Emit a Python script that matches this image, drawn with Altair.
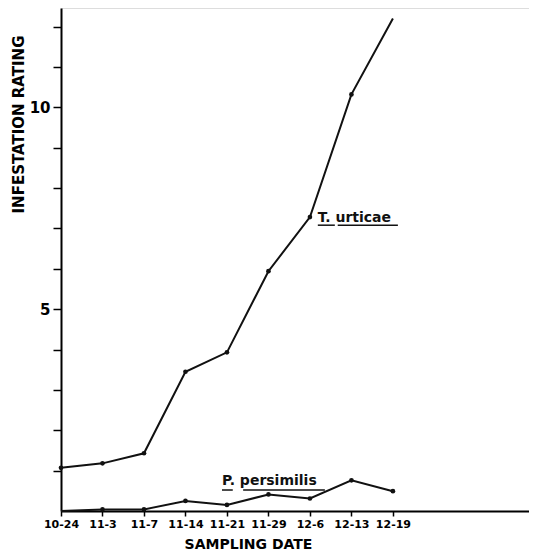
import altair as alt
import pandas as pd

dates = ["10-24", "11-3", "11-7", "11-14", "11-21", "11-29", "12-6", "12-13", "12-19"]
t_urticae = [1.07, 1.18, 1.43, 3.45, 3.93, 5.94, 7.28, 10.32, 12.2]
p_persimilis = [0.0, 0.04, 0.04, 0.25, 0.15, 0.41, 0.31, 0.76, 0.49]
series_names = ["T. urticae", "P. persimilis"]

rows = []
for i, d in enumerate(dates):
    rows.append({"idx": i, "date": d, "series": series_names[0], "value": t_urticae[i],
                 "marker": i < len(dates) - 1})
    rows.append({"idx": i, "date": d, "series": series_names[1], "value": p_persimilis[i],
                 "marker": i > 0})
df = pd.DataFrame(rows)

# annotation labels (data coordinates)
labels = pd.DataFrame({
    "text": series_names,
    "x": [6.19, 3.88],
    "y": [7.17, 0.64],
})
underlines = pd.DataFrame({
    "x": [6.19, 6.67, 3.88, 4.39],
    "x2": [6.60, 8.12, 4.14, 6.36],
    "y": [7.08, 7.08, 0.52, 0.52],
})

FONT = "DejaVu Sans"
label_expr = "[" + ",".join(f"'{d}'" for d in dates) + "][datum.value]"

x_enc = alt.X(
    "idx:Q",
    scale=alt.Scale(domain=[0, 11.28], nice=False, zero=False),
    axis=alt.Axis(
        values=list(range(len(dates))),
        labelExpr=label_expr,
        labelFlush=False,
        title="SAMPLING DATE",
        titleX=187, titleY=37, titleAlign="center", titleBaseline="alphabetic",
        titleFontSize=14, titleFont=FONT, titleFontWeight="bold", titleColor="black",
        labelFont=FONT, labelFontSize=11, labelFontWeight="bold", labelColor="black",
        labelPadding=2, tickSize=5, tickColor="black", tickWidth=1.5,
        domainColor="black", domainWidth=2, grid=False, labelOverlap=False,
    ),
)
y_enc = alt.Y(
    "value:Q",
    scale=alt.Scale(domain=[0, 12.46], nice=False),
    axis=alt.Axis(
        values=list(range(1, 13)),
        labelExpr="datum.value == 5 || datum.value == 10 ? datum.label : ''",
        title="INFESTATION RATING",
        titleX=-43, titleY=116, titleAngle=270, titleAlign="center", titleBaseline="middle",
        titleFontSize=15, titleFont=FONT, titleFontWeight="bold", titleColor="black",
        labelFont=FONT, labelFontSize=15, labelFontWeight="bold", labelColor="black",
        labelPadding=3, tickSize=8, tickColor="black", tickWidth=1.5,
        domainColor="black", domainWidth=2, grid=False,
    ),
)

base = alt.Chart(df)
lines = base.mark_line(color="#111111", strokeWidth=2).encode(
    x=x_enc, y=y_enc, detail="series:N", order="idx:Q"
)
points = base.transform_filter("datum.marker").mark_circle(color="#111111", size=22, opacity=1).encode(
    x="idx:Q", y="value:Q"
)
texts = alt.Chart(labels).mark_text(
    font=FONT, fontSize=14, fontWeight="bold", align="left", baseline="alphabetic", color="#111111"
).encode(x="x:Q", y="y:Q", text="text:N")
rules = alt.Chart(underlines).mark_rule(color="#111111", strokeWidth=1.5).encode(
    x="x:Q", x2="x2:Q", y="y:Q"
)

chart = alt.layer(lines, points, texts, rules).properties(
    width=468, height=503,
    autosize=alt.AutoSizeParams(type="none"),
    padding={"left": 53, "top": 0, "right": 0, "bottom": 39},
).configure_view(stroke=None).configure(background="white")

chart.save("out.html", embed_options={"renderer": "svg", "actions": False})
